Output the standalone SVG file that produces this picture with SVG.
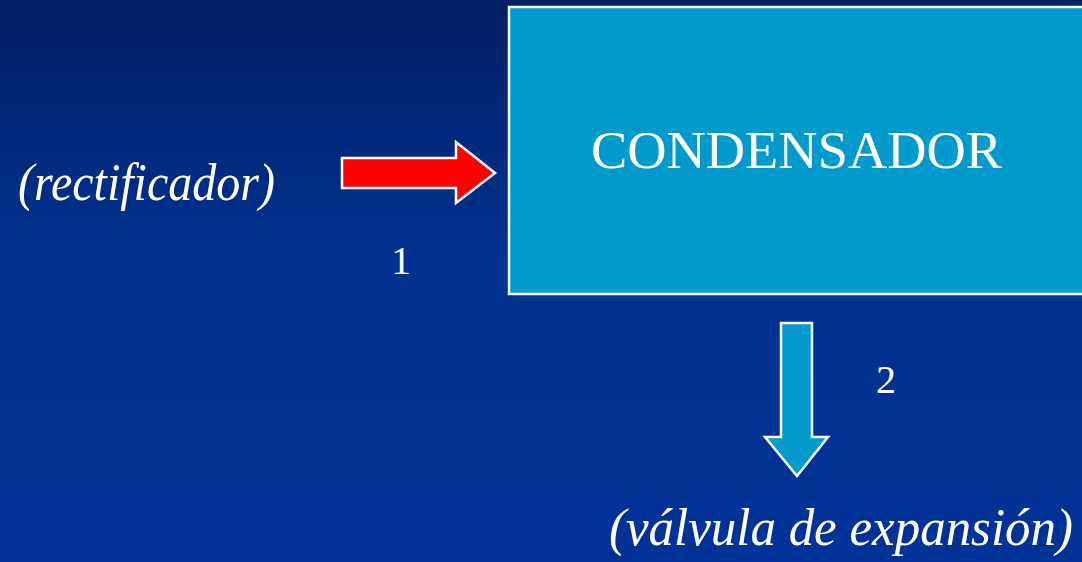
<svg xmlns="http://www.w3.org/2000/svg" width="1082" height="562" viewBox="0 0 1082 562">
<defs>
<linearGradient id="bg" x1="0" y1="0" x2="0" y2="1">
<stop offset="0" stop-color="#022064"/>
<stop offset="0.45" stop-color="#00318F"/>
<stop offset="1" stop-color="#003399"/>
</linearGradient>
</defs>
<style>
.t{fill:#fff;font-family:"Liberation Serif","DejaVu Serif",serif}
.it{font-style:italic}
</style>
<rect width="1082" height="562" fill="url(#bg)"/>
<g id="condensador">
<rect x="509" y="7" width="580" height="287" fill="#009ACC" stroke="#fff" stroke-width="2.5"/>
<text class="t" x="591" y="168" font-size="52" textLength="411" lengthAdjust="spacingAndGlyphs">CONDENSADOR</text>
</g>
<g id="rectificador">
<text class="t it" x="18" y="200" font-size="52" textLength="257" lengthAdjust="spacingAndGlyphs">(rectificador)</text>
</g>
<g id="valvula">
<text class="t it" x="609" y="545" font-size="52" textLength="464" lengthAdjust="spacingAndGlyphs">(válvula de expansión)</text>
</g>
<g id="connectors">
<polygon points="342,158 456,158 456,142 495,173 456,203 456,188 342,188" fill="#FF0000" stroke="#fff" stroke-width="2.5"/>
<polygon points="781,323 812,323 812,437 828,437 797,476 765,437 781,437" fill="#009ACC" stroke="#fff" stroke-width="2.5"/>
<text class="t" x="391" y="274" font-size="40">1</text>
<text class="t" x="876" y="393" font-size="40">2</text>
</g>
</svg>
